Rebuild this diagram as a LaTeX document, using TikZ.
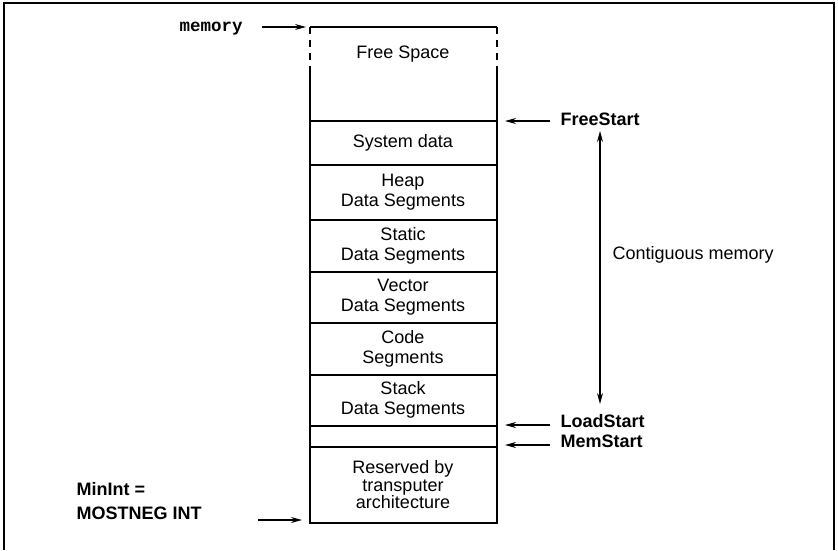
\documentclass[tikz,border=0pt]{standalone}
\usepackage{fontspec}
\setmainfont{Liberation Sans}
\setmonofont{Liberation Mono}
\usetikzlibrary{arrows.meta}
\begin{document}
\begin{tikzpicture}[x=1pt,y=-1pt,
  line width=1.1pt,
  cell/.style={font=\fontsize{18}{20.5}\selectfont, align=center, inner sep=0pt},
  tag/.style={font=\fontsize{18}{24}\selectfont\bfseries, inner sep=0pt, anchor=base west, align=left},
  ptr/.style={-{Stealth[length=11pt,width=6pt]}, line width=1.1pt},
  dptr/.style={{Stealth[length=11pt,width=6pt]}-{Stealth[length=11pt,width=6pt]}, line width=1.1pt}]
\useasboundingbox (0,0) rectangle (838,550);
% frame, open at the bottom
\draw (4,550) -- (4,3) -- (834,3) -- (834,550);

% memory column
\coordinate (tl) at (310,27);
\coordinate (tr) at (497,27);
\coordinate (bl) at (310,523);
\coordinate (br) at (497,523);
\draw (tl) -- (tr);
\draw[dash pattern=on 7pt off 6pt] (tl) -- (310,66);
\draw[dash pattern=on 7pt off 6pt] (tr) -- (497,66);
\draw (310,66) -- (bl) -- (br) -- (497,66);
\foreach \y in {121,165,220,272,323,375,426,447}{
  \draw (310,\y) -- (497,\y);
}

% cell contents
\node[cell] (free) at (403,54) {Free Space};
\node[cell] (sys) at (403,143) {System data};
\node[cell] (heap) at (403,192) {Heap\\Data Segments};
\node[cell] (static) at (403,246) {Static\\Data Segments};
\node[cell] (vector) at (403,297) {Vector\\Data Segments};
\node[cell] (code) at (403,349) {Code\\Segments};
\node[cell] (stack) at (403,400) {Stack\\Data Segments};
\node[cell, font=\fontsize{18}{17.5}\selectfont] (res) at (403,485) {Reserved by\\transputer\\architecture};

% pointer labels
\node[font=\fontsize{17.5}{20}\ttfamily\bfseries, inner sep=0pt, anchor=base west] (mem) at (179,31) {memory};
\coordinate (memtail) at (262,27);
\coordinate (memtip) at (306,27);
\draw[ptr] (memtail) -- (memtip);

\node[tag] (freestart) at (560,125) {FreeStart};
\node[tag] (loadstart) at (560,427) {LoadStart};
\node[tag] (memstart) at (560,447) {MemStart};
\coordinate (fstail) at (550,121);
\coordinate (fstip) at (505,121);
\coordinate (lstail) at (550,425);
\coordinate (lstip) at (505,425);
\coordinate (mstail) at (550,445);
\coordinate (mstip) at (505,445);
\draw[ptr] (fstail) -- (fstip);
\draw[ptr] (lstail) -- (lstip);
\draw[ptr] (mstail) -- (mstip);

\node[tag] (minint) at (76,519) {MinInt =\\MOSTNEG INT};
\coordinate (mitail) at (258,520);
\coordinate (mitip) at (302,520);
\draw[ptr] (mitail) -- (mitip);

% extent of contiguous memory
\coordinate (ctop) at (600,131);
\coordinate (cbot) at (600,404);
\draw[dptr] (ctop) -- (cbot);
\node[cell, anchor=west] (contig) at (612,255) {Contiguous memory};
\end{tikzpicture}
\end{document}
